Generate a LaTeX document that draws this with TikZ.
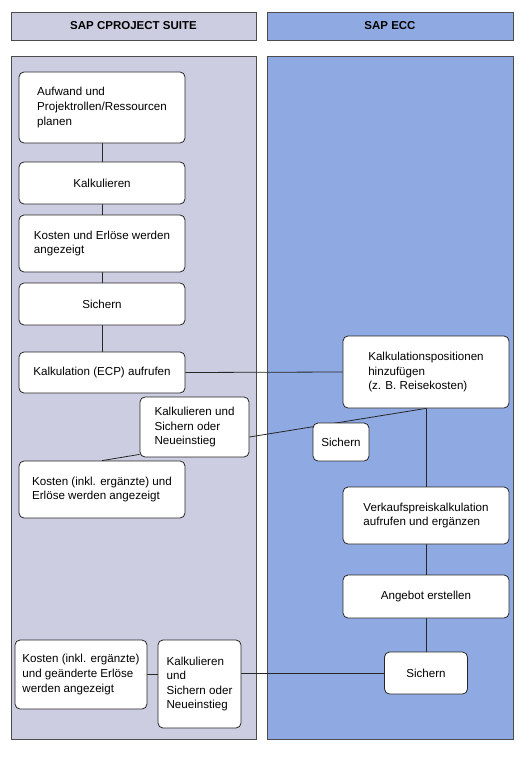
\documentclass[tikz,border=0pt]{standalone}
\usepackage{fontspec}
\setmainfont{Liberation Sans}
\usetikzlibrary{calc}
\pgfdeclarelayer{lanes}
\pgfdeclarelayer{lines}
\pgfsetlayers{lanes,lines,main}
\definecolor{lanegray}{HTML}{CDCDE2}
\definecolor{laneblue}{HTML}{8FAAE2}
\tikzset{
  box/.style={draw=black!85, line width=0.8pt, rounded corners=5pt, fill=white,
    align=left, inner sep=0pt, font=\fontsize{11.6}{14.6}\selectfont},
  lane/.style={draw=black!70, line width=0.9pt, inner sep=0pt},
  head/.style={lane, font=\fontsize{11.5}{13}\selectfont\bfseries},
  conn/.style={draw=black!85, line width=0.8pt},
}
\begin{document}
\begin{tikzpicture}[x=1pt,y=-1pt]
\useasboundingbox (0,0) rectangle (529,757);
\begin{pgfonlayer}{lanes}
  \node[head, fill=lanegray, minimum width=245pt, minimum height=28pt] (hL) at (133.5,26) {SAP CPROJECT SUITE};
  \node[head, fill=laneblue, minimum width=246pt, minimum height=28pt] (hR) at (390,26) {SAP ECC};
  \node[lane, fill=lanegray, minimum width=245pt, minimum height=683pt] (laneL) at (133.5,397.5) {};
  \node[lane, fill=laneblue, minimum width=246pt, minimum height=683pt] (laneR) at (390,397.5) {};
\end{pgfonlayer}

\node[box, minimum width=166pt, minimum height=71pt] (b1) at (102,107.5) {Aufwand und\\Projektrollen/Ressourcen\\planen};
\node[box, minimum width=166pt, minimum height=42pt] (b2) at (102,183) {Kalkulieren};
\node[box, minimum width=166pt, minimum height=57pt] (b3) at (102,243.5) {Kosten und Erlöse werden\\angezeigt};
\node[box, minimum width=166pt, minimum height=42pt] (b4) at (102,304) {Sichern};
\node[box, minimum width=166pt, minimum height=41pt] (b5) at (102,372.5) {Kalkulation (ECP) aufrufen};
\node[box, minimum width=109pt, minimum height=60pt] (b6) at (194.5,427) {Kalkulieren und\\Sichern oder\\Neueinstieg};
\node[box, minimum width=166pt, minimum height=57pt] (b7) at (102,489.5) {Kosten (inkl. ergänzte) und\\Erlöse werden angezeigt};
\node[box, minimum width=166pt, minimum height=72pt] (k1) at (426,372) {Kalkulationspositionen\\hinzufügen\\(z. B. Reisekosten)};
\node[box, minimum width=56pt, minimum height=38pt] (s1) at (341,442) {Sichern};
\node[box, minimum width=166pt, minimum height=57pt] (v1) at (426,515.5) {Verkaufspreiskalkulation\\aufrufen und ergänzen};
\node[box, minimum width=166pt, minimum height=43pt] (a1) at (426,596.5) {Angebot erstellen};
\node[box, minimum width=83pt, minimum height=42pt] (s2) at (426,673) {Sichern};
\node[box, minimum width=132pt, minimum height=69pt] (kb) at (81,674.5) {Kosten (inkl. ergänzte)\\und geänderte Erlöse\\werden angezeigt};
\node[box, minimum width=83pt, minimum height=88pt] (k2) at (199.5,684) {Kalkulieren\\und\\Sichern oder\\Neueinstieg};

\begin{pgfonlayer}{lines}
  \draw[conn] (b1.south) -- (b2.north);
  \draw[conn] (b2.south) -- (b3.north);
  \draw[conn] (b3.south) -- (b4.north);
  \draw[conn] (b4.south) -- (b5.north);
  \draw[conn] (b5.east) -- (k1.west);
  \draw[conn] (b7.north) -- ([yshift=3pt]b6.south west);
  \draw[conn] ([yshift=-10pt]b6.east) -- (k1.south);
  \draw[conn] (k1.south) -- (v1.north);
  \draw[conn] (v1.south) -- (a1.north);
  \draw[conn] (a1.south) -- (s2.north);
  \draw[conn] (s2.west) -- (k2.east |- s2.west);
  \draw[conn] (kb.east) -- (k2.west |- kb.east);
\end{pgfonlayer}
\end{tikzpicture}
\end{document}
